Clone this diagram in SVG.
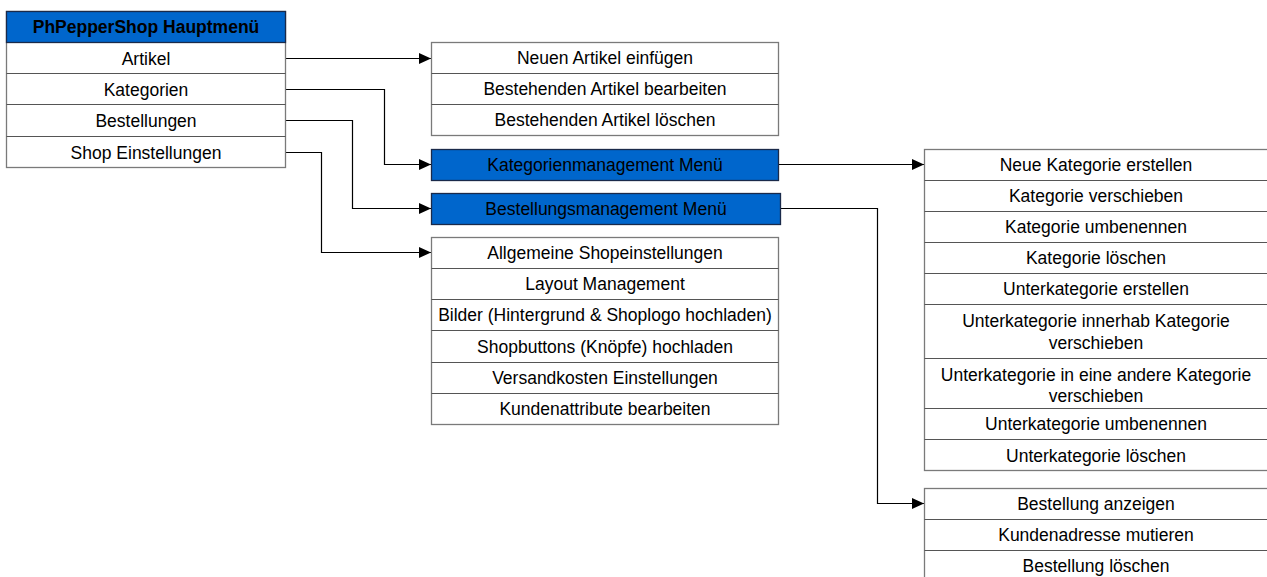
<svg xmlns="http://www.w3.org/2000/svg" width="1267" height="577" viewBox="0 0 1267 577">
<style>
text{font-family:"Liberation Sans",Arial,sans-serif;font-size:17.5px;fill:#000;text-anchor:middle}
.b{font-weight:bold}
.box{fill:#fff;stroke:#7a7a7a;stroke-width:1.3}
.blue{fill:#0066CC;stroke:#1a2a4a;stroke-width:1.3}
.sep{stroke:#555;stroke-width:1;fill:none}
.con{fill:none;stroke:#000;stroke-width:1.2}
</style>
<defs>
<marker id="arr" viewBox="0 0 12 11" refX="12" refY="5.5" markerWidth="12" markerHeight="11" markerUnits="userSpaceOnUse" orient="auto">
<path d="M0,0 L12,5.5 L0,11 z" fill="#000"/>
</marker>
</defs>
<rect width="1267" height="577" fill="#fff"/>

<g id="connectors">
<path class="con" d="M286 58.5 H431" marker-end="url(#arr)"/>
<path class="con" d="M286 89.5 H384.5 V164.5 H431" marker-end="url(#arr)"/>
<path class="con" d="M286 120.5 H352.5 V208.5 H431" marker-end="url(#arr)"/>
<path class="con" d="M286 152.5 H321.5 V252.5 H431" marker-end="url(#arr)"/>
<path class="con" d="M779 164.5 H924" marker-end="url(#arr)"/>
<path class="con" d="M781 208.5 H877.5 V503.5 H924" marker-end="url(#arr)"/>
</g>

<g id="hauptmenu">
<rect class="box" x="6.5" y="11.5" width="279" height="156"/>
<rect class="blue" x="6.5" y="11.5" width="279" height="31"/>
<path class="sep" d="M6.5 73.5 H285.5 M6.5 104.5 H285.5 M6.5 136.5 H285.5"/>
<text class="b" x="146" y="33">PhPepperShop Hauptmenü</text>
<text x="146" y="64.5">Artikel</text>
<text x="146" y="95.5">Kategorien</text>
<text x="146" y="127">Bestellungen</text>
<text x="146" y="158.5">Shop Einstellungen</text>
</g>

<g id="artikel">
<rect class="box" x="431.5" y="42.5" width="347" height="93"/>
<path class="sep" d="M431.5 73.5 H778.5 M431.5 104.5 H778.5"/>
<text x="605" y="64">Neuen Artikel einfügen</text>
<text x="605" y="95">Bestehenden Artikel bearbeiten</text>
<text x="605" y="126">Bestehenden Artikel löschen</text>
</g>

<g id="kategorienmenu">
<rect class="blue" x="431.5" y="149.5" width="347" height="31"/>
<text x="605" y="170.5">Kategorienmanagement Menü</text>
</g>

<g id="bestellungsmenu">
<rect class="blue" x="431.5" y="193.5" width="349" height="31"/>
<text x="606" y="214.5">Bestellungsmanagement Menü</text>
</g>

<g id="shopeinstellungen">
<rect class="box" x="431.5" y="237.5" width="347" height="187"/>
<path class="sep" d="M431.5 268.5 H778.5 M431.5 299.5 H778.5 M431.5 330.5 H778.5 M431.5 362.5 H778.5 M431.5 393.5 H778.5"/>
<text x="605" y="259">Allgemeine Shopeinstellungen</text>
<text x="605" y="290">Layout Management</text>
<text x="605" y="321">Bilder (Hintergrund &amp; Shoplogo hochladen)</text>
<text x="605" y="352.5">Shopbuttons (Knöpfe) hochladen</text>
<text x="605" y="384">Versandkosten Einstellungen</text>
<text x="605" y="415">Kundenattribute bearbeiten</text>
</g>

<g id="kategorienaktionen">
<rect class="box" x="924.5" y="149.5" width="345" height="321"/>
<path class="sep" d="M924.5 180.5 H1269 M924.5 211.5 H1269 M924.5 242.5 H1269 M924.5 273.5 H1269 M924.5 304.5 H1269 M924.5 358.5 H1269 M924.5 408.5 H1269 M924.5 439.5 H1269"/>
<text x="1096" y="170.5">Neue Kategorie erstellen</text>
<text x="1096" y="202">Kategorie verschieben</text>
<text x="1096" y="233">Kategorie umbenennen</text>
<text x="1096" y="264">Kategorie löschen</text>
<text x="1096" y="295">Unterkategorie erstellen</text>
<text x="1096" y="327">Unterkategorie innerhab Kategorie</text>
<text x="1096" y="348.5">verschieben</text>
<text x="1096" y="381">Unterkategorie in eine andere Kategorie</text>
<text x="1096" y="402">verschieben</text>
<text x="1096" y="430">Unterkategorie umbenennen</text>
<text x="1096" y="461.5">Unterkategorie löschen</text>
</g>

<g id="bestellungsaktionen">
<rect class="box" x="924.5" y="488.5" width="345" height="100"/>
<path class="sep" d="M924.5 519.5 H1269 M924.5 550.5 H1269"/>
<text x="1096" y="510">Bestellung anzeigen</text>
<text x="1096" y="541">Kundenadresse mutieren</text>
<text x="1096" y="572">Bestellung löschen</text>
</g>
</svg>
